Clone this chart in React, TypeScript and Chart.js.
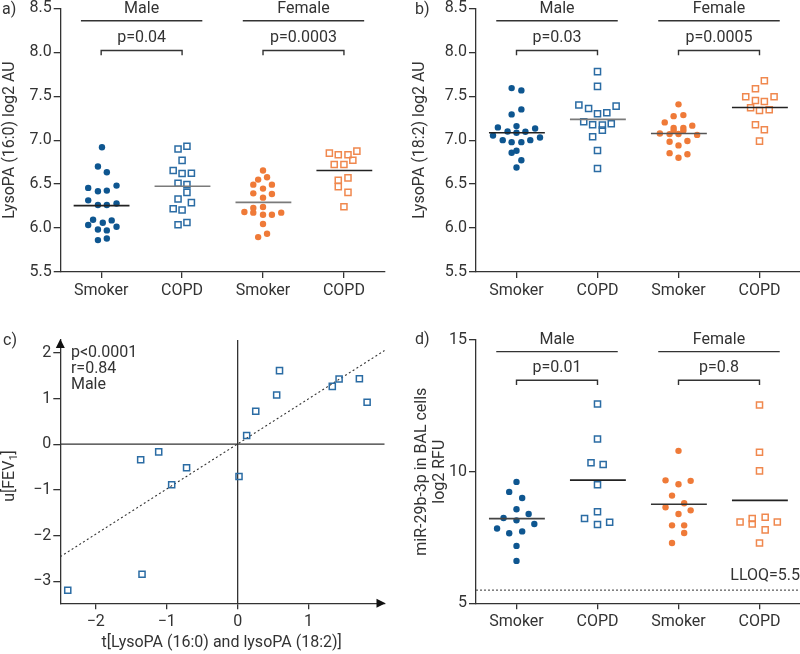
import { useEffect, useRef } from "react";
import { Chart, registerables } from "chart.js";

Chart.register(...registerables);

// ---------------- data ----------------
const categories = ["Smoker", "COPD", "Smoker", "COPD"];
const sexLabels = ["Male", "Female"];

// a) LysoPA (16:0) log2 AU
const aMaleSmoker = [6.92, 6.7, 6.635, 6.457, 6.418, 6.426, 6.483, 6.315, 6.263, 6.263, 6.28, 6.095, 6.06, 6.087, 6.034, 5.984, 5.973, 6.015, 5.863, 5.881];
const aMaleSmokerJitter = [0.01, -0.04, 0.07, -0.16, -0.04, 0.07, 0.19, -0.16, -0.04, 0.07, 0.19, -0.1, 0.02, 0.13, -0.16, -0.04, 0.07, 0.19, -0.04, 0.07];
const aMaleCopd = [6.931, 6.9, 6.77, 6.654, 6.62, 6.623, 6.51, 6.494, 6.406, 6.33, 6.289, 6.22, 6.205, 6.064, 6.038];
const aMaleCopdJitter = [0.06, -0.05, 0, -0.11, 0, 0.115, -0.05, 0.06, 0.06, -0.05, 0.115, -0.11, 0, 0.06, -0.05];
const aFemaleSmoker = [6.654, 6.551, 6.578, 6.494, 6.494, 6.449, 6.395, 6.388, 6.346, 6.228, 6.24, 6.183, 6.175, 6.152, 6.152, 6.175, 6.046, 5.935, 5.897];
const aFemaleSmokerJitter = [0, -0.06, 0.05, -0.12, 0.11, 0, -0.12, 0.11, 0, -0.12, 0, -0.23, -0.12, 0, 0.11, 0.225, 0, 0.05, -0.06];
const aFemaleCopd = [6.852, 6.833, 6.833, 6.875, 6.772, 6.723, 6.723, 6.571, 6.543, 6.471, 6.406, 6.243];
const aFemaleCopdJitter = [-0.18, -0.07, 0.05, 0.16, 0.11, -0.12, 0, 0.05, -0.07, -0.07, 0.05, 0];
const aMeans = [6.255, 6.475, 6.292, 6.654];
const aPValues = ["p=0.04", "p=0.0003"];

// b) LysoPA (18:2) log2 AU
const bMaleSmoker = [7.592, 7.566, 7.35, 7.293, 7.145, 7.16, 7.133, 7.099, 7.095, 7.053, 7.084, 7.03, 7.0, 6.977, 6.977, 7.0, 6.856, 6.879, 6.772, 6.689];
const bMaleSmokerJitter = [-0.06, 0.06, 0.06, -0.06, -0.23, 0, 0.23, -0.11, 0.11, -0.29, 0, 0.29, -0.17, -0.06, 0.06, 0.17, -0.06, 0, 0.06, 0];
const bMaleCopd = [7.78, 7.612, 7.399, 7.361, 7.3, 7.312, 7.387, 7.21, 7.175, 7.171, 7.187, 7.114, 7.039, 6.883, 6.678];
const bMaleCopdJitter = [0, 0, -0.23, -0.11, 0, 0.115, 0.23, -0.17, -0.06, 0.06, 0.17, 0.06, -0.06, 0, 0];
const bFemaleSmoker = [7.407, 7.273, 7.285, 7.202, 7.165, 7.14, 7.14, 7.11, 7.11, 7.076, 7.069, 7.07, 7.06, 6.982, 6.99, 6.94, 6.852, 6.84, 6.8];
const bFemaleSmokerJitter = [0, -0.06, 0.06, -0.17, 0.17, -0.06, 0.06, -0.06, 0.06, -0.23, -0.11, 0, 0.23, -0.11, 0.11, 0, -0.11, 0.11, 0];
const bFemaleCopd = [7.676, 7.585, 7.494, 7.494, 7.452, 7.44, 7.369, 7.338, 7.346, 7.175, 7.118, 6.989];
const bFemaleCopdJitter = [0.06, -0.05, -0.17, 0.18, -0.05, 0.06, -0.11, 0, 0.12, -0.05, 0.06, 0];
const bMeans = [7.084, 7.236, 7.076, 7.372];
const bPValues = ["p=0.03", "p=0.0005"];

const abYTicks = [5.5, 6.0, 6.5, 7.0, 7.5, 8.0, 8.5];

// c) scores plot, male
const cT = [0.59, 0.55, 0.255, 0.127, 1.334, 1.43, 1.716, 1.825, -1.367, -1.113, -0.72, -0.93, 0.019, -1.348, -2.395];
const cU = [1.61, 1.075, 0.72, 0.19, 1.265, 1.425, 1.432, 0.917, -0.34, -0.167, -0.515, -0.886, -0.706, -2.845, -3.195];
const cFitT = [-2.5, 2.07];
const cFitU = [-2.46, 2.05];
const cStats = ["p<0.0001", "r=0.84", "Male"];
const cXTicks = [-2, -1, 0, 1];
const cYTicks = [-3, -2, -1, 0, 1, 2];

// d) miR-29b-3p in BAL cells log2 RFU
const dMaleSmoker = [9.61, 9.23, 9.0, 8.57, 8.39, 8.24, 8.15, 8.01, 7.84, 7.66, 7.73, 7.18, 6.61];
const dMaleSmokerJitter = [0, -0.09, 0.07, 0, 0.15, -0.16, 0, 0.22, -0.24, -0.09, 0.07, 0, 0];
const dMaleCopd = [12.57, 11.24, 10.34, 10.27, 9.5, 8.48, 8.22, 7.99, 8.08];
const dMaleCopdJitter = [0, 0, -0.08, 0.07, 0, 0, -0.16, 0, 0.15];
const dFemaleSmoker = [10.79, 9.67, 9.52, 9.65, 9.09, 8.8, 8.65, 8.53, 8.39, 7.96, 7.96, 7.67, 7.29];
const dFemaleSmokerJitter = [0, -0.16, 0, 0.15, -0.08, 0.07, -0.16, 0.15, 0, -0.08, 0.07, 0.07, -0.08];
const dFemaleCopd = [12.53, 10.74, 10.03, 8.09, 8.22, 8.01, 8.27, 8.09, 7.79, 7.29];
const dFemaleCopdJitter = [0, 0, 0, -0.24, -0.09, -0.09, 0.07, 0.22, 0.07, 0];
const dMeans = [8.215, 9.68, 8.76, 8.91];
const dPValues = ["p=0.01", "p=0.8"];
const dYTicks = [5, 10, 15];
const dLLOQ = 5.5;

// ---------------- styles ----------------
const FONT = "Roboto, 'DejaVu Sans', sans-serif";
const INK = "#333333";
const GREY_MEAN = "#7a7a7a";
const BLUE = "#0e5690";
const BLUE_SQ = "#2b6ca4";
const ORANGE = "#ef7a38";
const ORANGE_SQ = "#f0884e";
const FS = 16;

type Pt = { x: number; y: number };
type TextItem = { x: number; y: number; text: string; align?: CanvasTextAlign };
type Box = { left: number; right: number; top: number; bottom: number };

const seg = (pts: Pt[], color: string, width: number, dash: number[] = []) => ({
  data: pts,
  showLine: true,
  borderColor: color,
  borderWidth: width,
  borderDash: dash,
  pointRadius: 0,
  pointHoverRadius: 0,
  clip: false,
});

const marks = (pts: Pt[], color: string, filled: boolean) => ({
  data: pts,
  showLine: false,
  pointStyle: filled ? "circle" : "rect",
  pointRadius: filled ? 3.2 : 4.3,
  pointHoverRadius: filled ? 3.2 : 4.3,
  pointBackgroundColor: filled ? color : "rgba(255,255,255,0)",
  pointBorderColor: color,
  pointBorderWidth: filled ? 0 : 1.5,
  clip: false,
});

function fixSize(s: any, horizontal: boolean, size: number) {
  if (horizontal) s.height = size;
  else s.width = size;
  s.paddingTop = 0;
  s.paddingBottom = 0;
  s.paddingLeft = 0;
  s.paddingRight = 0;
}

function yAxis(min: number, max: number, ticks: number[], fmt: (v: number) => string, width: number) {
  return {
    type: "linear",
    min,
    max,
    afterBuildTicks: (s: any) => {
      s.ticks = ticks.map((v) => ({ value: v }));
    },
    afterFit: (s: any) => fixSize(s, false, width),
    ticks: { font: { family: FONT, size: FS }, color: INK, padding: 2, autoSkip: false, callback: (v: any) => fmt(Number(v)) },
    grid: { drawOnChartArea: false, drawTicks: true, tickLength: 7, color: INK, lineWidth: 1.3 },
    border: { display: true, color: INK, width: 1.3 },
  };
}

function xAxis(min: number, max: number, ticks: number[], fmt: (v: number) => string, height: number) {
  return {
    type: "linear",
    min,
    max,
    afterBuildTicks: (s: any) => {
      s.ticks = ticks.map((v) => ({ value: v }));
    },
    afterFit: (s: any) => fixSize(s, true, height),
    ticks: { font: { family: FONT, size: FS }, color: INK, padding: 3, maxRotation: 0, autoSkip: false, callback: (v: any) => fmt(Number(v)) },
    grid: { drawOnChartArea: false, drawTicks: true, tickLength: 6, color: INK, lineWidth: 1.3 },
    border: { display: true, color: INK, width: 1.3 },
  };
}

function rotatedText(ctx: CanvasRenderingContext2D, text: string, cx: number, cy: number) {
  ctx.save();
  ctx.translate(cx, cy);
  ctx.rotate(-Math.PI / 2);
  ctx.textAlign = "center";
  ctx.textBaseline = "middle";
  ctx.fillText(text, 0, 0);
  ctx.restore();
}

function overlay(texts: TextItem[], extra: (chart: any, ctx: CanvasRenderingContext2D) => void) {
  return {
    id: "overlay",
    afterDraw(chart: any) {
      const ctx: CanvasRenderingContext2D = chart.ctx;
      const xs = chart.scales.x;
      const ys = chart.scales.y;
      ctx.save();
      ctx.fillStyle = INK;
      ctx.font = `${FS}px ${FONT}`;
      ctx.textBaseline = "middle";
      for (const t of texts) {
        ctx.textAlign = t.align || "center";
        ctx.fillText(t.text, xs.getPixelForValue(t.x), ys.getPixelForValue(t.y));
      }
      extra(chart, ctx);
      ctx.restore();
    },
  };
}

function baseOptions(gap: Box) {
  return {
    responsive: false,
    maintainAspectRatio: false,
    animation: false,
    devicePixelRatio: 1,
    events: [],
    layout: { autoPadding: false, padding: { left: 0, right: gap.right, top: gap.top, bottom: 0 } },
    plugins: { legend: { display: false }, tooltip: { enabled: false } },
  };
}

type Group = { vals: number[]; jitter: number[]; color: string; filled: boolean };

function dotConfig(o: {
  groups: Group[];
  means: number[];
  meanColors: string[];
  yMin: number;
  yMax: number;
  yTicks: number[];
  decimals: number;
  sexY: number;
  groupLineY: number;
  pY: number;
  bracketY: number;
  bracketTickY: number;
  pValues: string[];
  gap: Box;
  panel: string;
  panelPos: [number, number];
  yTitle: string[];
  yTitlePos: [number, number][];
  lloq?: number;
  lloqTextY?: number;
}) {
  const layers: any[] = [];
  [0, 2].forEach((c) => {
    layers.push(seg([{ x: c - 0.25, y: o.groupLineY }, { x: c + 1.25, y: o.groupLineY }], INK, 1.4));
    layers.push(
      seg(
        [
          { x: c, y: o.bracketTickY },
          { x: c, y: o.bracketY },
          { x: c + 1, y: o.bracketY },
          { x: c + 1, y: o.bracketTickY },
        ],
        INK,
        1.4
      )
    );
  });
  if (o.lloq !== undefined) {
    layers.push(seg([{ x: -0.5, y: o.lloq }, { x: 3.5, y: o.lloq }], "#555555", 1.2, [2, 2]));
  }
  o.groups.forEach((g, i) => {
    layers.push(marks(g.vals.map((v, k) => ({ x: i + g.jitter[k], y: v })), g.color, g.filled));
  });
  o.means.forEach((m, i) => {
    layers.push(seg([{ x: i - 0.34, y: m }, { x: i + 0.35, y: m }], o.meanColors[i], 1.6));
  });
  const texts: TextItem[] = [
    { x: 0.5, y: o.sexY, text: sexLabels[0] },
    { x: 2.5, y: o.sexY, text: sexLabels[1] },
    { x: 0.5, y: o.pY, text: o.pValues[0] },
    { x: 2.5, y: o.pY, text: o.pValues[1] },
  ];
  if (o.lloq !== undefined && o.lloqTextY !== undefined) {
    texts.push({ x: 3.5, y: o.lloqTextY, text: `LLOQ=${o.lloq}`, align: "right" });
  }
  return {
    type: "scatter",
    data: { datasets: layers.reverse() },
    options: {
      ...baseOptions(o.gap),
      scales: {
        x: xAxis(-0.5, 3.5, [0, 1, 2, 3], (v) => categories[v] ?? "", o.gap.bottom),
        y: yAxis(o.yMin, o.yMax, o.yTicks, (v) => v.toFixed(o.decimals), o.gap.left),
      },
    },
    plugins: [
      overlay(texts, (chart, ctx) => {
        ctx.textAlign = "left";
        ctx.fillText(o.panel, o.panelPos[0], o.panelPos[1]);
        o.yTitle.forEach((t, i) => rotatedText(ctx, t, o.yTitlePos[i][0], o.yTitlePos[i][1]));
      }),
    ],
  };
}

const makeA = () =>
  dotConfig({
    groups: [
      { vals: aMaleSmoker, jitter: aMaleSmokerJitter, color: BLUE, filled: true },
      { vals: aMaleCopd, jitter: aMaleCopdJitter, color: BLUE_SQ, filled: false },
      { vals: aFemaleSmoker, jitter: aFemaleSmokerJitter, color: ORANGE, filled: true },
      { vals: aFemaleCopd, jitter: aFemaleCopdJitter, color: ORANGE_SQ, filled: false },
    ],
    means: aMeans,
    meanColors: ["#222222", GREY_MEAN, GREY_MEAN, "#222222"],
    yMin: 5.5,
    yMax: 8.5,
    yTicks: abYTicks,
    decimals: 1,
    sexY: 8.49,
    groupLineY: 8.358,
    pY: 8.157,
    bracketY: 8.02,
    bracketTickY: 7.965,
    pValues: aPValues,
    gap: { left: 60.7, right: 15.6, top: 8.3, bottom: 38 },
    panel: "a)",
    panelPos: [2, 10],
    yTitle: ["LysoPA (16:0) log2 AU"],
    yTitlePos: [[10, 140]],
  });

const makeB = () =>
  dotConfig({
    groups: [
      { vals: bMaleSmoker, jitter: bMaleSmokerJitter, color: BLUE, filled: true },
      { vals: bMaleCopd, jitter: bMaleCopdJitter, color: BLUE_SQ, filled: false },
      { vals: bFemaleSmoker, jitter: bFemaleSmokerJitter, color: ORANGE, filled: true },
      { vals: bFemaleCopd, jitter: bFemaleCopdJitter, color: ORANGE_SQ, filled: false },
    ],
    means: bMeans,
    meanColors: ["#222222", GREY_MEAN, "#555555", "#222222"],
    yMin: 5.5,
    yMax: 8.5,
    yTicks: abYTicks,
    decimals: 1,
    sexY: 8.49,
    groupLineY: 8.358,
    pY: 8.157,
    bracketY: 8.02,
    bracketTickY: 7.965,
    pValues: bPValues,
    gap: { left: 76, right: 0, top: 8.3, bottom: 38 },
    panel: "b)",
    panelPos: [15, 10],
    yTitle: ["LysoPA (18:2) log2 AU"],
    yTitlePos: [[20, 140]],
  });

const makeD = () =>
  dotConfig({
    groups: [
      { vals: dMaleSmoker, jitter: dMaleSmokerJitter, color: BLUE, filled: true },
      { vals: dMaleCopd, jitter: dMaleCopdJitter, color: BLUE_SQ, filled: false },
      { vals: dFemaleSmoker, jitter: dFemaleSmokerJitter, color: ORANGE, filled: true },
      { vals: dFemaleCopd, jitter: dFemaleCopdJitter, color: ORANGE_SQ, filled: false },
    ],
    means: dMeans,
    meanColors: ["#444444", "#222222", "#333333", "#222222"],
    yMin: 5,
    yMax: 15,
    yTicks: dYTicks,
    decimals: 0,
    sexY: 15.0,
    groupLineY: 14.56,
    pY: 13.93,
    bracketY: 13.47,
    bracketTickY: 13.29,
    pValues: dPValues,
    gap: { left: 76, right: 0, top: 30, bottom: 50.7 },
    panel: "d)",
    panelPos: [15, 30],
    yTitle: ["miR-29b-3p in BAL cells", "log2 RFU"],
    yTitlePos: [
      [21.7, 161.7],
      [40, 161.7],
    ],
    lloq: dLLOQ,
    lloqTextY: 6.05,
  });

const minus = (v: number) => (v < 0 ? "\u2212" + Math.abs(v) : String(v));

const makeC = () => {
  const xMin = -2.5;
  const xMax = 2.07;
  const yMin = -3.48;
  const yMax = 2.28;
  const gap: Box = { left: 60.3, right: 15.5, top: 30, bottom: 50.7 };
  const layers: any[] = [
    seg([{ x: 0, y: yMin }, { x: 0, y: yMax }], INK, 1.3),
    seg([{ x: xMin, y: 0 }, { x: xMax, y: 0 }], INK, 1.3),
    seg(cFitT.map((t, i) => ({ x: t, y: cFitU[i] })), INK, 1.1, [2, 2.5]),
    marks(cT.map((t, i) => ({ x: t, y: cU[i] })), BLUE_SQ, false),
  ];
  const texts: TextItem[] = cStats.map((s, i) => ({ x: -2.35, y: 1.99 - i * 0.345, text: s, align: "left" as CanvasTextAlign }));
  return {
    type: "scatter",
    data: { datasets: layers.reverse() },
    options: {
      ...baseOptions(gap),
      scales: {
        x: xAxis(xMin, xMax, cXTicks, minus, gap.bottom),
        y: yAxis(yMin, yMax, cYTicks, minus, gap.left),
      },
    },
    plugins: [
      overlay(texts, (chart, ctx) => {
        const a = chart.chartArea;
        ctx.fillStyle = "#111111";
        ctx.beginPath();
        ctx.moveTo(a.left, a.top - 1);
        ctx.lineTo(a.left - 4.5, a.top + 8);
        ctx.lineTo(a.left + 4.5, a.top + 8);
        ctx.closePath();
        ctx.fill();
        ctx.beginPath();
        ctx.moveTo(a.right + 1, a.bottom);
        ctx.lineTo(a.right - 8, a.bottom - 4.5);
        ctx.lineTo(a.right - 8, a.bottom + 4.5);
        ctx.closePath();
        ctx.fill();
        ctx.fillStyle = INK;
        ctx.textAlign = "left";
        ctx.textBaseline = "middle";
        ctx.font = `${FS}px ${FONT}`;
        ctx.fillText("c)", 3, 31);
        ctx.textAlign = "center";
        ctx.fillText("t[LysoPA (16:0) and lysoPA (18:2)]", 221.7, 333);
        const main = "u[FEV";
        const sub = "1";
        const end = "]";
        const w1 = ctx.measureText(main).width;
        const w3 = ctx.measureText(end).width;
        ctx.font = `11px ${FONT}`;
        const w2 = ctx.measureText(sub).width;
        const total = w1 + w2 + w3;
        ctx.save();
        ctx.translate(10, 166);
        ctx.rotate(-Math.PI / 2);
        ctx.textAlign = "left";
        ctx.textBaseline = "middle";
        ctx.font = `${FS}px ${FONT}`;
        ctx.fillText(main, -total / 2, 0);
        ctx.font = `11px ${FONT}`;
        ctx.fillText(sub, -total / 2 + w1, 4);
        ctx.font = `${FS}px ${FONT}`;
        ctx.fillText(end, -total / 2 + w1 + w2, 0);
        ctx.restore();
      }),
    ],
  };
};

function ChartBox(props: { make: () => any; left: number; top: number; width: number; height: number }) {
  const ref = useRef<HTMLCanvasElement>(null);
  useEffect(() => {
    const chart = new Chart(ref.current as HTMLCanvasElement, props.make());
    return () => chart.destroy();
  }, []);
  return (
    <canvas
      ref={ref}
      width={props.width}
      height={props.height}
      style={{ position: "absolute", left: props.left, top: props.top, width: props.width, height: props.height }}
    />
  );
}

export default function App() {
  return (
    <div style={{ position: "fixed", left: 0, top: 0, width: 800, height: 654, background: "#ffffff", overflow: "hidden" }}>
      <ChartBox make={makeA} left={0} top={0} width={400} height={310} />
      <ChartBox make={makeB} left={400} top={0} width={400} height={310} />
      <ChartBox make={makeC} left={0} top={310} width={400} height={344} />
      <ChartBox make={makeD} left={400} top={310} width={400} height={344} />
    </div>
  );
}
